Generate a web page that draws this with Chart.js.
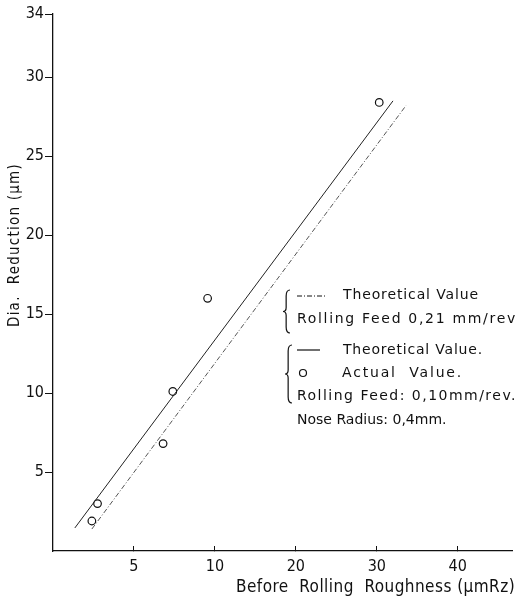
<!DOCTYPE html>
<html>
<head>
<meta charset="utf-8">
<script src="https://cdn.jsdelivr.net/npm/chart.js@4"></script>
<style>
  html, body { margin: 0; padding: 0; background: #fff; }
  #wrap { width: 518px; height: 601px; position: relative; }
</style>
</head>
<body>
<div id="wrap"><canvas id="c"></canvas></div>
<script>
// ---- data (x in axis tick-position units; ticks are evenly spaced and labelled below) ----
const xTickPositions = [1, 2, 3, 4, 5];
const xTickLabels = ['5', '10', '20', '30', '40'];
const yTickValues = [5, 10, 15, 20, 25, 30, 34];

const actualX = [0.48, 0.55, 1.36, 1.48, 1.91, 4.03];
const actualY = [1.9, 3.0, 6.8, 10.1, 16.0, 28.4];

const feed010LineX = [0.27, 4.20];
const feed010LineY = [1.46, 28.5];

const feed021LineX = [0.48, 4.36];
const feed021LineY = [1.39, 28.2];

const xTitle = 'Before  Rolling  Roughness (µmRz)';
const yTitle = 'Dia.  Reduction (µm)';

const zip = (xs, ys) => xs.map((x, i) => ({ x: x, y: ys[i] }));

const FONT = '"DejaVu Sans Condensed", "DejaVu Sans", sans-serif';
const LFONT = '"DejaVu Sans", sans-serif';

function fitText(ctx, text, x, y, width) {
  ctx.letterSpacing = '0px';
  const w = ctx.measureText(text).width;
  const ls = Math.max(0, (width - w) / text.length);
  ctx.letterSpacing = ls.toFixed(2) + 'px';
  ctx.fillText(text, x, y);
  ctx.letterSpacing = '0px';
}

function brace(ctx, x, y1, y2, w) {
  const mid = (y1 + y2) / 2;
  const xm = x + w * 0.45;
  ctx.beginPath();
  ctx.moveTo(x + w, y1);
  ctx.quadraticCurveTo(xm, y1, xm, y1 + 6);
  ctx.lineTo(xm, mid - 4);
  ctx.quadraticCurveTo(xm, mid, x, mid);
  ctx.quadraticCurveTo(xm, mid, xm, mid + 4);
  ctx.lineTo(xm, y2 - 6);
  ctx.quadraticCurveTo(xm, y2, x + w, y2);
  ctx.stroke();
}

const annotations = {
  id: 'annotations',
  afterDraw(chart) {
    const ctx = chart.ctx;
    ctx.save();
    ctx.fillStyle = '#111';
    ctx.strokeStyle = '#111';
    ctx.textBaseline = 'middle';
    ctx.textAlign = 'left';

    // axis titles
    ctx.font = '17px ' + FONT;
    fitText(ctx, xTitle, 236, 588, 279);
    ctx.save();
    ctx.translate(15, 245);
    ctx.rotate(-Math.PI / 2);
    ctx.textAlign = 'center';
    ctx.font = '15px ' + FONT;
    fitText(ctx, yTitle, 0, 0, 164);
    ctx.restore();

    // legend block
    ctx.font = '14px ' + LFONT;
    ctx.lineWidth = 1.2;
    brace(ctx, 283, 290, 333, 7);
    brace(ctx, 285, 345, 403, 7);

    ctx.save();
    ctx.setLineDash([5, 2, 1, 2]);
    ctx.beginPath(); ctx.moveTo(297, 296); ctx.lineTo(325, 296); ctx.stroke();
    ctx.restore();
    fitText(ctx, 'Theoretical Value', 343, 295, 136);
    fitText(ctx, 'Rolling Feed 0,21 mm/rev', 297, 319, 220);

    ctx.beginPath(); ctx.moveTo(297, 350); ctx.lineTo(320, 350); ctx.stroke();
    fitText(ctx, 'Theoretical Value.', 343, 350, 140);

    ctx.beginPath(); ctx.arc(303, 373, 3.5, 0, Math.PI * 2); ctx.stroke();
    fitText(ctx, 'Actual  Value.', 342, 373, 121);
    fitText(ctx, 'Rolling Feed: 0,10mm/rev.', 297, 396, 220);
    fitText(ctx, 'Nose Radius: 0,4mm.', 297, 420, 143);
    ctx.restore();
  }
};

new Chart(document.getElementById('c'), {
  type: 'scatter',
  data: {
    datasets: [
      {
        label: 'Theoretical Value (0,10 mm/rev)',
        data: zip(feed010LineX, feed010LineY),
        showLine: true,
        borderColor: '#222',
        borderWidth: 1,
        pointRadius: 0,
        fill: false
      },
      {
        label: 'Theoretical Value (0,21 mm/rev)',
        data: zip(feed021LineX, feed021LineY),
        showLine: true,
        borderColor: '#555',
        borderWidth: 1,
        borderDash: [5, 2, 1, 2],
        pointRadius: 0,
        fill: false
      },
      {
        label: 'Actual Value',
        data: zip(actualX, actualY),
        showLine: false,
        pointRadius: 3.8,
        pointBorderWidth: 1.2,
        pointBorderColor: '#111',
        pointBackgroundColor: 'rgba(255,255,255,0)'
      }
    ]
  },
  options: {
    responsive: true,
    maintainAspectRatio: false,
    animation: false,
    layout: { padding: { left: 0, right: 5, top: 14, bottom: 0 } },
    plugins: { legend: { display: false }, tooltip: { enabled: false } },
    scales: {
      x: {
        type: 'linear',
        min: 0,
        max: 5.68,
        afterBuildTicks(scale) { scale.ticks = xTickPositions.map(v => ({ value: v })); },
        afterFit(scale) { scale.height = 50; },
        ticks: {
          color: '#111',
          font: { family: FONT, size: 16 },
          padding: 11,
          maxRotation: 0,
          autoSkip: false,
          callback: (v, i) => xTickLabels[i]
        },
        grid: { drawOnChartArea: false, drawTicks: true, tickLength: -5, color: '#111', lineWidth: 1 },
        border: { color: '#111', width: 1.3 }
      },
      y: {
        type: 'linear',
        min: 0,
        max: 34,
        afterBuildTicks(scale) { scale.ticks = yTickValues.map(v => ({ value: v })); },
        afterFit(scale) { scale.width = 53; },
        ticks: {
          color: '#111',
          font: { family: FONT, size: 16 },
          padding: 1,
          autoSkip: false
        },
        grid: { drawOnChartArea: false, drawTicks: true, tickLength: 8, color: '#111', lineWidth: 1 },
        border: { color: '#111', width: 1.3 }
      }
    }
  },
  plugins: [annotations]
});
</script>
</body>
</html>
